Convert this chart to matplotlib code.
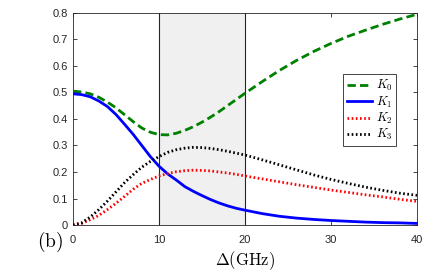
import matplotlib
matplotlib.use("Agg")
import matplotlib.pyplot as plt

plt.rcParams['mathtext.fontset'] = 'cm'
plt.rcParams['font.family'] = ['Liberation Sans', 'DejaVu Sans']

delta = [0, 1, 2, 3, 4, 5, 6, 7, 8, 9, 10, 11, 12, 13, 14, 15, 16, 17, 18, 19, 20,
         22, 24, 26, 28, 30, 32, 34, 36, 38, 40]
K0 = [0.505, 0.502, 0.495, 0.482, 0.464, 0.442, 0.416, 0.390, 0.366, 0.350, 0.341, 0.340, 0.346,
      0.357, 0.371, 0.388, 0.407, 0.428, 0.451, 0.474, 0.497,
      0.541, 0.583, 0.621, 0.655, 0.685, 0.712, 0.735, 0.757, 0.777, 0.795]
K1 = [0.495, 0.492, 0.484, 0.468, 0.447, 0.417, 0.380, 0.342, 0.300, 0.258, 0.222, 0.193, 0.170,
      0.145, 0.127, 0.111, 0.096, 0.083, 0.072, 0.063, 0.056,
      0.043, 0.033, 0.026, 0.021, 0.017, 0.014, 0.011, 0.009, 0.008, 0.006]
K2 = [0.000, 0.006, 0.020, 0.036, 0.058, 0.082, 0.108, 0.135, 0.157, 0.172, 0.185, 0.194, 0.201,
      0.205, 0.207, 0.206, 0.204, 0.200, 0.196, 0.191, 0.185,
      0.174, 0.163, 0.152, 0.142, 0.132, 0.123, 0.114, 0.106, 0.097, 0.089]
K3 = [0.000, 0.008, 0.030, 0.058, 0.090, 0.125, 0.160, 0.190, 0.218, 0.240, 0.258, 0.274, 0.284,
      0.290, 0.293, 0.292, 0.289, 0.284, 0.278, 0.271, 0.264,
      0.246, 0.227, 0.208, 0.189, 0.172, 0.157, 0.143, 0.131, 0.120, 0.112]

fig = plt.figure(figsize=(4.36, 2.79), dpi=100)
ax = fig.add_axes([0.1674, 0.1935, 0.789, 0.760])

ax.axvspan(10, 20, facecolor='#f0f0f0', edgecolor='none', zorder=0)
ax.axvline(10, color='#262626', lw=0.8, zorder=1)
ax.axvline(20, color='#262626', lw=0.8, zorder=1)

ax.plot(delta, K0, color=(0, 0.5, 0), lw=2, ls=(0, (3, 1.5)), label='$K_0$', zorder=3)
ax.plot(delta, K1, color=(0, 0, 1), lw=2, ls='-', label='$K_1$', zorder=3)
ax.plot(delta, K2, color=(1, 0, 0), lw=2, ls=(0, (0.6, 0.9)), label='$K_2$', zorder=3)
ax.plot(delta, K3, color='black', lw=2, ls=(0, (0.6, 0.9)), label='$K_3$', zorder=3)

ax.set_xlim(0, 40)
ax.set_ylim(0, 0.8)
ax.set_xticks([0, 10, 20, 30, 40])
ax.set_yticks([0, 0.1, 0.2, 0.3, 0.4, 0.5, 0.6, 0.7, 0.8])
ax.set_yticklabels(['0', '0.1', '0.2', '0.3', '0.4', '0.5', '0.6', '0.7', '0.8'])
ax.tick_params(direction='in', top=True, right=True, labelsize=8, colors='#262626',
               length=3, width=0.6)
ax.tick_params(axis='x', pad=7)
for s in ax.spines.values():
    s.set_color('#262626')
    s.set_linewidth(0.6)

ax.set_xlabel(r'$\Delta(\mathrm{GHz})$', fontsize=12, labelpad=3)
fig.text(0.085, 0.133, r'$(\mathrm{b})$', fontsize=14, ha='left', va='center')

leg = ax.legend(loc='upper left', bbox_to_anchor=(0.785, 0.71), fontsize=9,
                handlelength=2.0, handletextpad=0.3, borderpad=0.3, labelspacing=0.1,
                fancybox=False, framealpha=1, edgecolor='#262626', borderaxespad=0)
leg.get_frame().set_linewidth(0.6)

fig.savefig('out.png', dpi=100)
